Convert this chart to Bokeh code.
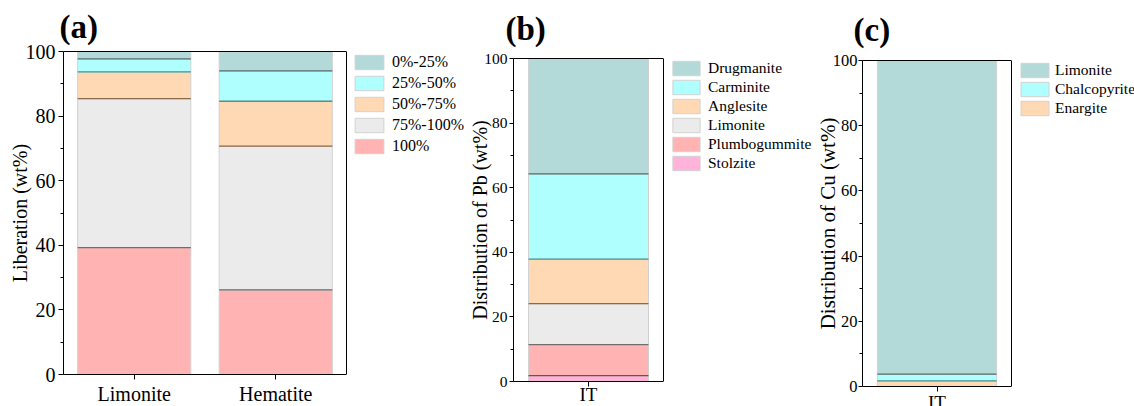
from bokeh.plotting import figure
from bokeh.layouts import row
from bokeh.models import (ColumnDataSource, Range1d, FixedTicker, LinearAxis,
                          Legend, LegendItem, Span)
from bokeh.transform import dodge
from bokeh.embed import file_html
from bokeh.resources import INLINE

# ---------------- data ----------------
# (a) liberation of iron minerals (stack order bottom -> top)
cats_a = ["Limonite", "Hematite"]
lib_labels = ["100%", "75%-100%", "50%-75%", "25%-50%", "0%-25%"]
lib_100 = [39.3, 26.2]
lib_75_100 = [46.1, 44.5]
lib_50_75 = [8.3, 13.9]
lib_25_50 = [4.0, 9.4]
lib_0_25 = [2.3, 6.0]

# (b) distribution of Pb (bottom -> top)
cats_b = ["IT"]
pb_labels = ["Stolzite", "Plumbogummite", "Limonite", "Anglesite", "Carminite", "Drugmanite"]
pb_stolzite = [1.8]
pb_plumbogummite = [9.6]
pb_limonite = [12.7]
pb_anglesite = [13.8]
pb_carminite = [26.4]
pb_drugmanite = [35.7]

# (c) distribution of Cu (bottom -> top)
cats_c = ["IT"]
cu_labels = ["Enargite", "Chalcopyrite", "Limonite"]
cu_enargite = [1.7]
cu_chalcopyrite = [2.1]
cu_limonite = [96.2]

y_ticks = [0, 20, 40, 60, 80, 100]
y_minor_ticks = [10, 30, 50, 70, 90]

# ---------------- styles ----------------
FONT = "Liberation Serif"
TEAL, CYAN, PEACH, GRAY, SALMON, PINK = "#B3D9D9", "#B0FFFF", "#FFD9B3", "#EBEBEB", "#FFB3B3", "#FFB3DA"
D_TEAL, D_CYAN, D_PEACH, D_GRAY, D_SALMON, D_PINK = "#4F6E6E", "#3E9A9A", "#8C6A4A", "#6E6E6E", "#7E4A4A", "#8A4A6A"
SIDE = "#D2D2D2"
TOP = 72


def make_panel(letter, cats, layers, labels, fills, darks, ylabel, cfg):
    n = len(cats)
    xs = [i + 0.5 for i in range(n)]          # category centres
    keys = ["s%d" % i for i in range(len(layers))]
    data = {"x": xs}
    for k, v in zip(keys, layers):
        data[k] = v
    src = ColumnDataSource(data)

    full_w = cfg["fw"] + cfg["lw"]            # plotting area + legend area
    p = figure(x_range=Range1d(0, n * full_w / cfg["fw"]), y_range=Range1d(0, 100),
               frame_width=full_w, frame_height=cfg["fh"],
               min_border_left=cfg["bl"], min_border_right=0,
               min_border_top=TOP, min_border_bottom=0,
               output_backend="svg", toolbar_location=None,
               background_fill_color="white", border_fill_color="white",
               outline_line_color=None)
    p.margin = (cfg["mt"], 0, 0, 0)
    p.xgrid.visible = False
    p.ygrid.visible = False
    xa = p.below[0]
    ya = p.left[0]

    rends = p.vbar_stack(keys, x="x", width=0.8, source=src,
                         fill_color=fills, line_color=SIDE, line_width=1)

    # darker line at the bottom edge of every layer above the first
    seg_x, seg_y, seg_col = [], [], []
    for i in range(1, len(layers)):
        for j in range(n):
            seg_x.append(xs[j])
            seg_y.append(sum(layers[k][j] for k in range(i)))
            seg_col.append(darks[i])
    segsrc = ColumnDataSource(dict(x=seg_x, y=seg_y, color=seg_col))
    p.segment(x0=dodge("x", -0.4), x1=dodge("x", 0.4),
              y0="y", y1="y", line_color="color", line_width=1.3, source=segsrc)

    # box around the plotting area: right edge and top edge
    p.add_layout(Span(location=n, dimension="height", line_color="black", line_width=1))
    top_ax = LinearAxis(ticker=FixedTicker(ticks=[]), bounds=(0, n),
                        major_tick_in=0, major_tick_out=0, minor_tick_in=0, minor_tick_out=0,
                        major_label_standoff=0, axis_line_color="black", axis_line_width=1)
    p.add_layout(top_ax, "above")

    # panel letter
    p.title.text = letter
    p.title.text_font = FONT
    p.title.text_font_size = "33px"
    p.title.text_font_style = "bold"
    p.title.text_color = "black"
    p.title.align = "left"
    p.title.offset = cfg["toff"]
    p.title.standoff = cfg["tstand"]

    # y axis
    ya.ticker = FixedTicker(ticks=y_ticks, minor_ticks=y_minor_ticks)
    ya.axis_label = ylabel
    ya.axis_label_text_font = FONT
    ya.axis_label_text_font_style = "normal"
    ya.axis_label_text_font_size = cfg["ylab_fs"]
    ya.axis_label_text_color = "black"
    ya.axis_label_standoff = cfg["ylab_so"]
    ya.major_label_text_font = FONT
    ya.major_label_text_font_size = cfg["tick_fs"]
    ya.major_label_text_color = "black"
    ya.major_label_standoff = cfg["ytick_so"]
    ya.major_tick_in = 0
    ya.major_tick_out = cfg["tick_len"]
    ya.minor_tick_in = 0
    ya.minor_tick_out = 3
    ya.axis_line_color = "black"
    ya.major_tick_line_color = "black"
    ya.minor_tick_line_color = "black"

    # x axis (category names at the bar centres)
    xa.ticker = FixedTicker(ticks=xs, minor_ticks=[])
    xa.major_label_overrides = {x: c for x, c in zip(xs, cats)}
    xa.bounds = (0, n)
    xa.major_label_text_font = FONT
    xa.major_label_text_font_size = cfg["xlab_fs"]
    xa.major_label_text_color = "black"
    xa.major_label_standoff = cfg["xtick_so"]
    xa.major_tick_in = 0
    xa.major_tick_out = 5
    xa.minor_tick_in = 0
    xa.minor_tick_out = 0
    xa.axis_line_color = "black"
    xa.major_tick_line_color = "black"

    # legend (top layer first), right of the plotting area
    items = [LegendItem(label=lab, renderers=[r]) for lab, r in zip(labels, rends)][::-1]
    m = len(items)
    leg_h = m * cfg["gh"] + (m - 1) * cfg["gs"]
    leg = Legend(items=items, location=(cfg["fw"] + cfg["lx"], cfg["fh"] - cfg["ltop"] - leg_h),
                 margin=0, padding=0, spacing=cfg["gs"],
                 glyph_width=cfg["gw"], glyph_height=cfg["gh"], label_height=cfg["gh"],
                 label_standoff=cfg["lso"],
                 label_text_font=FONT, label_text_font_size=cfg["leg_fs"],
                 label_text_color="black",
                 border_line_alpha=0, background_fill_alpha=0)
    p.add_layout(leg)
    return p


pa = make_panel("(a)", cats_a,
                [lib_100, lib_75_100, lib_50_75, lib_25_50, lib_0_25], lib_labels,
                [SALMON, GRAY, PEACH, CYAN, TEAL], [D_SALMON, D_GRAY, D_PEACH, D_CYAN, D_TEAL],
                "Liberation (wt%)",
                dict(fw=283, lw=120, fh=323, bl=63, mt=51 - TOP, toff=-4, tstand=13,
                     ylab_fs="20px", ylab_so=-8, tick_fs="20px", ytick_so=3, tick_len=5,
                     xlab_fs="20px", xtick_so=3,
                     gw=36, gh=18, gs=3, lso=5, lx=5, ltop=2, leg_fs="16px"))

pb = make_panel("(b)", cats_b,
                [pb_stolzite, pb_plumbogummite, pb_limonite, pb_anglesite, pb_carminite, pb_drugmanite],
                pb_labels,
                [PINK, SALMON, GRAY, PEACH, CYAN, TEAL],
                [D_PINK, D_SALMON, D_GRAY, D_PEACH, D_CYAN, D_TEAL],
                "Distribution of Pb (wt%)",
                dict(fw=150, lw=149, fh=323, bl=46, mt=58 - TOP, toff=-8, tstand=23,
                     ylab_fs="20px", ylab_so=-10, tick_fs="15.5px", ytick_so=2, tick_len=4,
                     xlab_fs="19px", xtick_so=-3,
                     gw=34, gh=18, gs=1, lso=5, lx=6, ltop=1, leg_fs="15.5px"))

pc = make_panel("(c)", cats_c,
                [cu_enargite, cu_chalcopyrite, cu_limonite], cu_labels,
                [PEACH, CYAN, TEAL], [D_PEACH, D_CYAN, D_TEAL],
                "Distribution of Cu (wt%)",
                dict(fw=149, lw=124, fh=326, bl=50, mt=60 - TOP, toff=-9, tstand=26,
                     ylab_fs="21px", ylab_so=-10, tick_fs="16.5px", ytick_so=1, tick_len=4,
                     xlab_fs="19px", xtick_so=0,
                     gw=35, gh=18, gs=1, lso=3, lx=6, ltop=1, leg_fs="15.5px"))

layout = row(pa, pb, pc, spacing=0)
open("out.html", "w").write(file_html(layout, INLINE))
